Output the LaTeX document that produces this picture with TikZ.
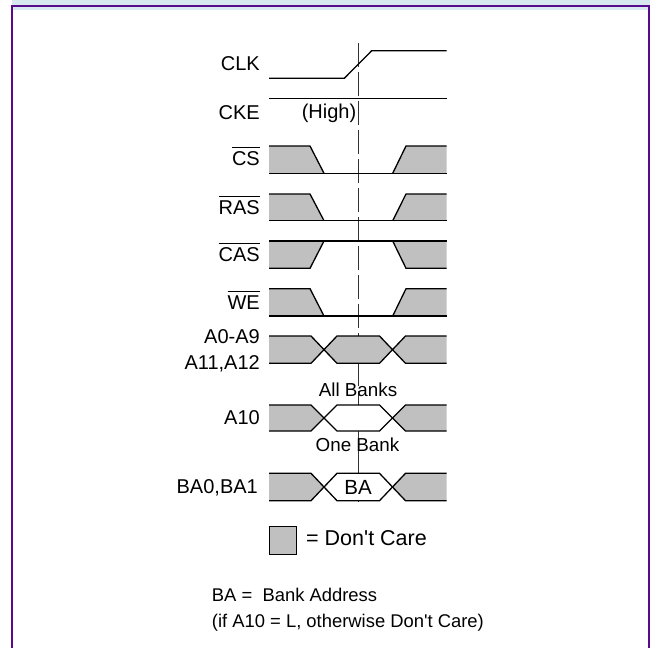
\documentclass[tikz,border=0pt]{standalone}
\usepackage{fontspec}
\setmainfont{Liberation Sans}
\definecolor{dcgray}{RGB}{192,192,192}
\definecolor{framec}{RGB}{88,10,140}
\definecolor{stripc}{RGB}{216,232,240}
\newcommand{\obar}[1]{\leavevmode\vbox{\hrule height 1pt\kern 3.5pt\hbox{#1}}}
\begin{document}
\begin{tikzpicture}[x=1pt,y=-1pt,
  sig/.style={line width=1.3pt, line join=miter},
  lbl/.style={anchor=base east, inner sep=0pt, font=\fontsize{20}{24}\selectfont},
  midlbl/.style={anchor=base, inner sep=0pt, font=\fontsize{18.8}{22}\selectfont},
  note/.style={anchor=base west, inner sep=0pt, font=\fontsize{18.4}{22}\selectfont}]
\useasboundingbox (0,0) rectangle (650,648);
% frame
\fill[stripc] (12,0) rectangle (650,10);
\draw[framec, line width=2pt] (12,648) -- (12,6) -- (649,6) -- (649,648);

% dashed reference line (behind the bus shapes)
\draw[black!80, line width=1pt, dash pattern=on 24pt off 5pt] (358,43) -- (358,505);

% labels
\node[lbl] (lclk) at (260,70.7) {CLK};
\node[lbl] (lcke) at (260,119) {CKE};
\node[lbl] (lcs) at (260,165.7) {\obar{CS}};
\node[lbl] (lras) at (260,214) {\obar{RAS}};
\node[lbl] (lcas) at (260,261.7) {\obar{CAS}};
\node[lbl] (lwe) at (260,309.3) {\obar{WE}};
\node[lbl] (la0) at (260,343.3) {A0-A9};
\node[lbl] (la11) at (260,369.3) {A11,A12};
\node[lbl] (la10) at (260,424.3) {A10};
\node[lbl] (lba) at (258,493.3) {BA0,BA1};

% CLK
\draw[sig] (269,78.3) -- (344.3,78.3) -- (371.7,50.7) -- (446.7,50.7);
% CKE
\draw[sig] (269,98.3) -- (446.7,98.3);
\node[midlbl, font=\fontsize{20}{24}\selectfont] (high) at (329,118.3) {(High)};

% low-active pulses: CS, RAS, WE
\foreach \T/\B in {146/173.3, 194/220.7, 288.7/316} {
  \fill[dcgray] (269,\T) -- (310,\T) -- (324,\B) -- (269,\B) -- cycle;
  \fill[dcgray] (392.7,\B) -- (406,\T) -- (446.7,\T) -- (446.7,\B) -- cycle;
  \draw[sig] (269,\T) -- (310,\T) -- (324,\B);
  \draw[sig] (269,\B) -- (446.7,\B);
  \draw[sig] (392.7,\B) -- (406,\T) -- (446.7,\T);
}
% high pulse: CAS
\foreach \T/\B in {241/268.3} {
  \fill[dcgray] (269,\B) -- (310,\B) -- (324,\T) -- (269,\T) -- cycle;
  \fill[dcgray] (392.7,\T) -- (406,\B) -- (446.7,\B) -- (446.7,\T) -- cycle;
  \draw[sig] (269,\B) -- (310,\B) -- (324,\T);
  \draw[sig] (269,\T) -- (446.7,\T);
  \draw[sig] (392.7,\T) -- (406,\B) -- (446.7,\B);
}
% buses
\foreach \T/\B/\fc in {336/363.3/dcgray, 405/431/white, 473.3/500.7/white} {
  \fill[dcgray] (269,\T) -- (311,\T) -- (324,{(\T+\B)/2}) -- (311,\B) -- (269,\B) -- cycle;
  \fill[\fc] (324,{(\T+\B)/2}) -- (337,\T) -- (379.5,\T) -- (392.5,{(\T+\B)/2}) -- (379.5,\B) -- (337,\B) -- cycle;
  \fill[dcgray] (392.5,{(\T+\B)/2}) -- (405.5,\T) -- (446.7,\T) -- (446.7,\B) -- (405.5,\B) -- cycle;
  \draw[sig] (269,\T) -- (311,\T) -- (337,\B) -- (379.5,\B) -- (405.5,\T) -- (446.7,\T);
  \draw[sig] (269,\B) -- (311,\B) -- (337,\T) -- (379.5,\T) -- (405.5,\B) -- (446.7,\B);
}

\node[midlbl] (allb) at (358,396.7) {All Banks};
\node[midlbl] (oneb) at (357.5,451.7) {One Bank};
\node[midlbl, font=\fontsize{20.5}{24}\selectfont] (batxt) at (358,494) {BA};

% legend
\draw[fill=dcgray, line width=1.2pt] (269.3,526.7) rectangle (296.7,554.3);
\node[anchor=base west, inner sep=0pt, font=\fontsize{21.5}{26}\selectfont] (dc) at (306,545) {= Don\textquotesingle t Care};

\node[note] (n1) at (211.7,601.7) {BA =\ \ Bank Address};
\node[note] (n2) at (211.7,627) {(if A10 = L, otherwise Don\textquotesingle t Care)};
\end{tikzpicture}
\end{document}
